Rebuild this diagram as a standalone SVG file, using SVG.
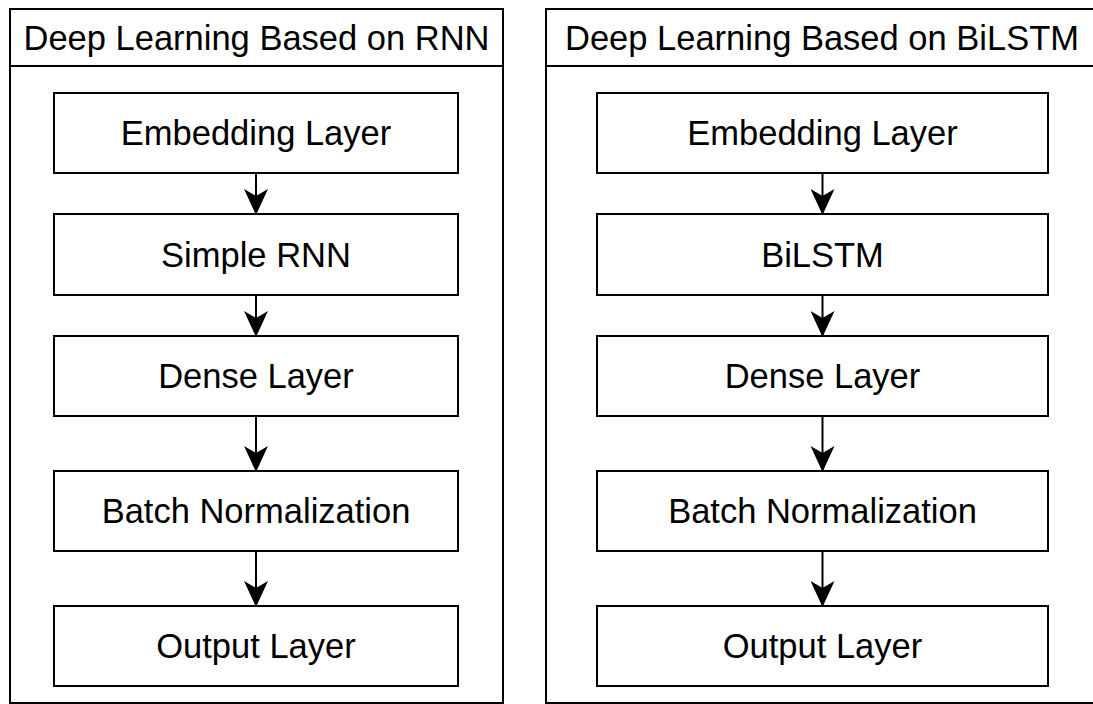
<svg xmlns="http://www.w3.org/2000/svg" width="1093" height="704" viewBox="0 0 1093 704">
<style>
.frame{fill:#fff;stroke:#000;stroke-width:2}
.box{fill:#fff;stroke:#000;stroke-width:2}
.t{font-family:"Liberation Sans",Arial,sans-serif;font-size:34.5px;fill:#000;text-anchor:middle}
.edge{stroke:#000;stroke-width:2;fill:none;marker-end:url(#arr)}
</style>
<defs>
<marker id="arr" viewBox="0 0 26 24" refX="25" refY="12" markerWidth="26" markerHeight="24" markerUnits="userSpaceOnUse" orient="auto">
<path d="M0,0 L26,12 L0,24 L7,12 Z" fill="#000"/>
</marker>
</defs>
<rect width="1093" height="704" fill="#fff"/>
<g id="container-rnn">
<rect class="frame" x="10" y="9" width="493" height="694"/>
<line x1="10" y1="66" x2="503" y2="66" stroke="#000" stroke-width="2"/>
<text class="t" x="256.5" y="49.5">Deep Learning Based on RNN</text>
</g>
<g id="container-bilstm">
<rect class="frame" x="546" y="9" width="552" height="694"/>
<line x1="546" y1="66" x2="1098" y2="66" stroke="#000" stroke-width="2"/>
<text class="t" x="822" y="49.5">Deep Learning Based on BiLSTM</text>
</g>
<g id="rnn-embedding"><rect class="box" x="54" y="93" width="404" height="80"/><text class="t" x="256" y="145">Embedding Layer</text></g>
<g id="rnn-simple"><rect class="box" x="54" y="214" width="404" height="81"/><text class="t" x="256" y="266.5">Simple RNN</text></g>
<g id="rnn-dense"><rect class="box" x="54" y="336" width="404" height="80"/><text class="t" x="256" y="388">Dense Layer</text></g>
<g id="rnn-batch"><rect class="box" x="54" y="471" width="404" height="80"/><text class="t" x="256" y="523">Batch Normalization</text></g>
<g id="rnn-output"><rect class="box" x="54" y="606" width="404" height="80"/><text class="t" x="256" y="658">Output Layer</text></g>
<g id="bi-embedding"><rect class="box" x="597" y="93" width="451" height="80"/><text class="t" x="822.5" y="145">Embedding Layer</text></g>
<g id="bi-bilstm"><rect class="box" x="597" y="214" width="451" height="81"/><text class="t" x="822.5" y="266.5">BiLSTM</text></g>
<g id="bi-dense"><rect class="box" x="597" y="336" width="451" height="80"/><text class="t" x="822.5" y="388">Dense Layer</text></g>
<g id="bi-batch"><rect class="box" x="597" y="471" width="451" height="80"/><text class="t" x="822.5" y="523">Batch Normalization</text></g>
<g id="bi-output"><rect class="box" x="597" y="606" width="451" height="80"/><text class="t" x="822.5" y="658">Output Layer</text></g>
<g id="connectors">
<line class="edge" x1="256" y1="173" x2="256" y2="214"/>
<line class="edge" x1="256" y1="295" x2="256" y2="336"/>
<line class="edge" x1="256" y1="416" x2="256" y2="471"/>
<line class="edge" x1="256" y1="551" x2="256" y2="606"/>
<line class="edge" x1="822.5" y1="173" x2="822.5" y2="214"/>
<line class="edge" x1="822.5" y1="295" x2="822.5" y2="336"/>
<line class="edge" x1="822.5" y1="416" x2="822.5" y2="471"/>
<line class="edge" x1="822.5" y1="551" x2="822.5" y2="606"/>
</g>
</svg>
